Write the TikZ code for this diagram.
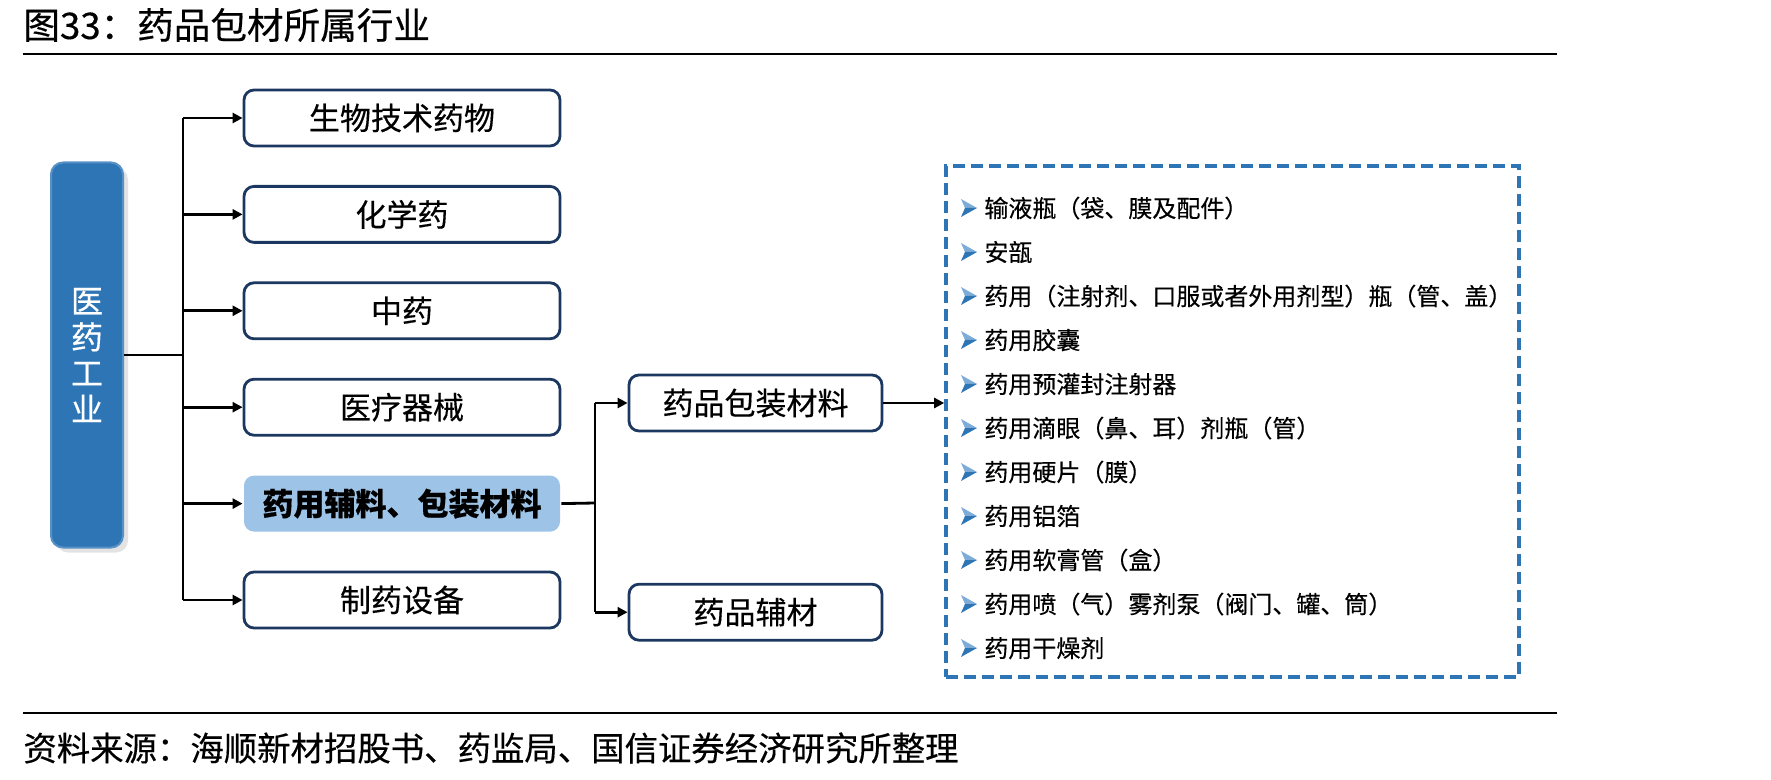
\documentclass[tikz,border=0pt]{standalone}
\usepackage{fontspec}
\setmainfont{Noto Sans CJK SC}[FakeBold=0.4]
\usepackage{xcolor}
\usetikzlibrary{positioning, arrows.meta, shadows}

\definecolor{deepblue}{RGB}{46,117,182}
\definecolor{paleblue}{RGB}{157,195,230}
\definecolor{boxline}{RGB}{28,56,96}

\begin{document}
\begin{tikzpicture}[x=0.5pt, y=-0.5pt, node distance=18.8pt,
    catbox/.style={draw=boxline, line width=1.4pt, rounded corners=5pt, fill=white,
      minimum width=158pt, minimum height=28pt, font=\fontsize{15.5pt}{18pt}\selectfont},
    subbox/.style={catbox, minimum width=126.5pt},
    indbox/.style={fill=deepblue, draw=deepblue!80!white, line width=1pt, rounded corners=6pt,
      minimum width=36pt, minimum height=192.5pt, text=white, align=center,
      font=\fontsize{16pt}{18pt}\selectfont,
      drop shadow={shadow xshift=2.5pt, shadow yshift=-2.5pt, fill=black!22}},
    listbox/.style={draw=deepblue, line width=1.8pt, dash pattern=on 6pt off 3pt,
      minimum width=286.5pt, minimum height=255.5pt},
    itemtext/.style={anchor=west, inner sep=0pt, text height=10.6pt, text depth=1.4pt,
      font=\fontsize{12pt}{14pt}\selectfont},
    link/.style={line width=1.4pt},
    arr/.style={link, -{Triangle[length=5pt, width=5pt]}},
    rule/.style={line width=0.8pt},
    arrowbullet/.pic={
      \fill[paleblue!70!deepblue] (0,-9) -- (16,0) -- (4,0) -- cycle;
      \fill[deepblue] (4,0) -- (16,0) -- (0,9) -- cycle;
    }]
  \useasboundingbox (0,0) rectangle (1771,780);

  % heading and source
  \node[anchor=west, inner sep=0pt, font=\fontsize{18.3pt}{22pt}\selectfont] (title) at (23,25) {图33：药品包材所属行业};
  \draw[rule] (23,54) -- (1557,54);
  \draw[rule] (23,713) -- (1557,713);
  \node[anchor=west, inner sep=0pt, font=\fontsize{16.7pt}{20pt}\selectfont] (source) at (23,748) {资料来源：海顺新材招股书、药监局、国信证券经济研究所整理};

  % industry and its branches
  \node[indbox] (ind) at (87,355) {医\\药\\工\\业};
  \node[catbox] (bio) at (402,118) {生物技术药物};
  \node[catbox, below=of bio] (chem) {化学药};
  \node[catbox, below=of chem] (tcm) {中药};
  \node[catbox, below=of tcm] (med) {医疗器械};
  \node[catbox, below=of med, fill=paleblue, draw=none, font=\fontsize{15.5pt}{18pt}\selectfont\bfseries] (aux) {药用辅料、包装材料};
  \node[catbox, below=of aux] (equip) {制药设备};

  \coordinate (trunk) at (183,355);
  \draw[link] (ind.east) -- (trunk);
  \draw[link] (trunk |- bio) -- (trunk |- equip);
  \foreach \b in {bio, chem, tcm, med, aux, equip}
    \draw[arr] (trunk |- \b) -- (\b.west);

  % packaging and excipients
  \node[subbox] (pkg) at (755.5,403) {药品包装材料};
  \node[subbox, below=75.2pt of pkg] (exc) {药品辅材};
  \coordinate (fork) at (595,503);
  \draw[link] (aux.east) -- (fork);
  \draw[link] (fork |- pkg) -- (fork |- exc);
  \draw[arr] (fork |- pkg) -- (pkg.west);
  \draw[arr] (fork |- exc) -- (exc.west);

  % list of packaging materials
  \node[listbox] (list) at (1232.5,421.5) {};
  \draw[arr] (pkg.east) -- (pkg.east -| list.west);
  \foreach \txt [count=\i] in {输液瓶（袋、膜及配件）, 安瓿, 药用（注射剂、口服或者外用剂型）瓶（管、盖）,
      药用胶囊, 药用预灌封注射器, 药用滴眼（鼻、耳）剂瓶（管）, 药用硬片（膜）, 药用铝箔,
      药用软膏管（盒）, 药用喷（气）雾剂泵（阀门、罐、筒）, 药用干燥剂} {
    \pic at (961,164+44*\i) {arrowbullet};
    \node[itemtext] (item\i) at (984,164+44*\i) {\txt};
  }
\end{tikzpicture}
\end{document}
